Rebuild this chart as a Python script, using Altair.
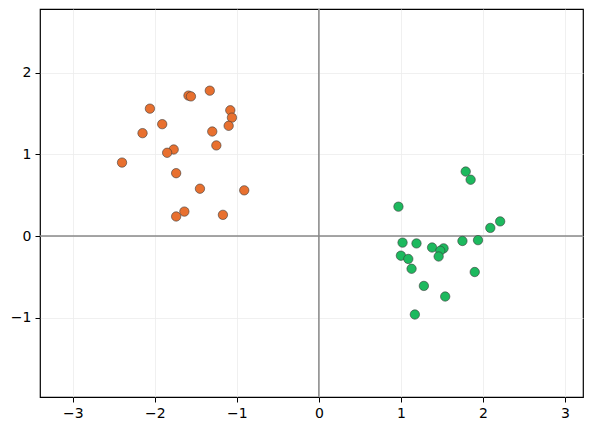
"""Two-cluster scatter with zero lines."""
import altair as alt
import pandas as pd

orange_x = [-1.59, -1.56, -1.33, -2.06, -1.08, -1.06, -1.10, -1.91, -2.15, -1.30,
            -1.25, -1.77, -1.85, -2.40, -1.74, -1.45, -0.91, -1.64, -1.74, -1.17]
orange_y = [1.72, 1.71, 1.78, 1.56, 1.54, 1.45, 1.35, 1.37, 1.26, 1.28,
            1.11, 1.06, 1.02, 0.90, 0.77, 0.58, 0.56, 0.30, 0.24, 0.26]

green_x = [1.79, 1.85, 0.97, 2.21, 2.09, 1.02, 1.19, 1.75, 1.94, 1.38,
           1.52, 1.48, 1.46, 1.00, 1.09, 1.13, 1.90, 1.28, 1.54, 1.17]
green_y = [0.79, 0.69, 0.36, 0.18, 0.10, -0.08, -0.09, -0.06, -0.05, -0.14,
           -0.15, -0.18, -0.25, -0.24, -0.28, -0.40, -0.44, -0.61, -0.74, -0.96]

x_ticks = [-3, -2, -1, 0, 1, 2, 3]
y_ticks = [-1, 0, 1, 2]

points = pd.DataFrame({
    "x": orange_x + green_x,
    "y": orange_y + green_y,
    "group": ["a"] * len(orange_x) + ["b"] * len(green_x),
})

x_scale = alt.Scale(domain=[-3.40, 3.22], nice=False, zero=False)
y_scale = alt.Scale(domain=[-1.97, 2.78], nice=False, zero=False)

axis_style = dict(domain=False, tickColor="black", tickSize=5, tickWidth=1,
                  labelPadding=4, labelFontSize=14, labelColor="black",
                  labelFont="DejaVu Sans", gridColor="#ececec", gridWidth=0.8,
                  format="d", title=None)

scatter = alt.Chart(points).mark_circle(
    size=88, opacity=1, stroke="#3a3a3a", strokeWidth=0.6
).encode(
    x=alt.X("x:Q", scale=x_scale, axis=alt.Axis(values=x_ticks, **axis_style)),
    y=alt.Y("y:Q", scale=y_scale, axis=alt.Axis(values=y_ticks, **axis_style)),
    color=alt.Color("group:N", legend=None,
                    scale=alt.Scale(domain=["a", "b"], range=["#E8702F", "#1DB95E"])),
)

zero = pd.DataFrame({"v": [0]})
vline = alt.Chart(zero).mark_rule(color="#888888", strokeWidth=1.5).encode(
    x=alt.X("v:Q", scale=x_scale))
hline = alt.Chart(zero).mark_rule(color="#888888", strokeWidth=1.5).encode(
    y=alt.Y("v:Q", scale=y_scale))

chart = alt.layer(vline, hline, scatter).properties(
    width=543, height=388,
    autosize="none",
    padding={"left": 32, "top": 1, "right": 1, "bottom": 25},
).configure_view(stroke="black", strokeWidth=1.2)

chart.save("out.html", embed_options={"renderer": "svg", "actions": False})
